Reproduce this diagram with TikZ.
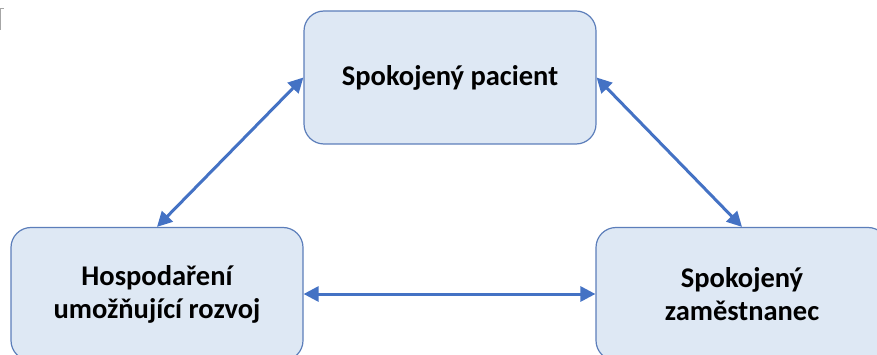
\documentclass[tikz,border=0pt]{standalone}
\usepackage{fontspec}
\setmainfont{Carlito}
\usetikzlibrary{arrows.meta}
\definecolor{boxfill}{RGB}{222,232,244}
\definecolor{boxline}{RGB}{92,126,186}
\definecolor{arrowblue}{RGB}{68,114,196}
\begin{document}
\begin{tikzpicture}[x=1pt,y=-1pt,
  goalbox/.style={draw=boxline, line width=1.2pt, fill=boxfill, rounded corners=20pt,
    minimum width=292pt, minimum height=133pt, align=center,
    font=\fontsize{28.5}{33}\selectfont\bfseries, inner sep=0pt},
  link/.style={draw=arrowblue, line width=3pt,
    {Triangle[length=15pt,width=15pt]}-{Triangle[length=15pt,width=15pt]}}]
  \useasboundingbox (0,0) rectangle (877,355);
  \clip (0,0) rectangle (877,355);
  % the three goals
  \node[goalbox] (pacient) at (450,77.5) {Spokojený pacient};
  \node[goalbox] (hosp) at (157,294) {Hospodaření\\umožňující rozvoj};
  \node[goalbox] (zam) at (742,294) {Spokojený\\zaměstnanec};
  % mutual links
  \draw[link] (pacient.west) -- (hosp.north);
  \draw[link] (pacient.east) -- (zam.north);
  \draw[link] (hosp.east) -- (zam.west);
  % small mark in the corner
  \draw[gray!70, line width=0.8pt] (0.5,30) -- (0.5,8.5) -- (3.5,8.5);
\end{tikzpicture}
\end{document}
